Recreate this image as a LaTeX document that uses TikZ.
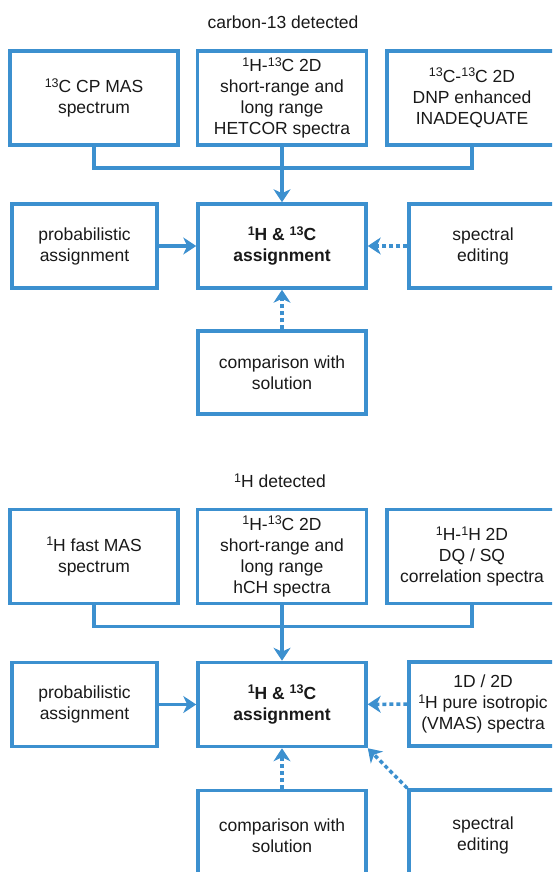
\documentclass[tikz,border=0pt]{standalone}
\usepackage{fontspec}
\setmainfont{Liberation Sans}
\usetikzlibrary{arrows.meta}
\definecolor{nmrblue}{RGB}{60,144,207}
\newcommand{\nmrfont}{\fontsize{17.5}{21}\selectfont}
\newcommand{\iso}[1]{\raisebox{5.5pt}{\fontsize{12.5}{12.5}\selectfont #1}}
\tikzstyle{nmrbox} = [draw=nmrblue, line width=3.5pt, rectangle, align=center,
    inner sep=2pt, text=black!90, font=\nmrfont]
\tikzstyle{nmrtitle} = [text=black!90, font=\nmrfont]
\tikzstyle{nmrline} = [draw=nmrblue, line width=3.5pt]
\tikzstyle{nmrarrow} = [nmrline, -{Stealth[length=13pt, width=17pt, inset=4pt]}]
\tikzstyle{nmrdots} = [nmrarrow, dash pattern=on 4pt off 3pt]

\begin{document}
\begin{tikzpicture}[x=1pt, y=-1pt]
    \useasboundingbox (0,0) rectangle (552,872);
    \clip (0,0) rectangle (552,872);
    % carbon-13 detected
    \node[nmrtitle] (ctitle) at (283,22) {carbon-13 detected};
    \node[nmrbox, minimum width=168pt, minimum height=94pt] (cpmas) at (94,98)
        {\iso{13}C CP MAS\\spectrum};
    \node[nmrbox, minimum width=169pt, minimum height=94pt] (hetcor) at (282,98)
        {\iso{1}H-\iso{13}C 2D\\short-range and\\long range\\HETCOR spectra};
    \node[nmrbox, minimum width=170pt, minimum height=94pt] (inadeq) at (472,98)
        {\iso{13}C-\iso{13}C 2D\\DNP enhanced\\INADEQUATE};
    \node[nmrbox, minimum width=145pt, minimum height=84pt] (cprob) at (84.5,246)
        {probabilistic\\assignment};
    \node[nmrbox, minimum width=168pt, minimum height=84pt, font=\nmrfont\bfseries] (cassign) at (282,246)
        {\iso{1}H \& \iso{13}C\\assignment};
    \node[nmrbox, minimum width=148pt, minimum height=84pt] (cedit) at (483,246)
        {spectral\\editing};
    \node[nmrbox, minimum width=168pt, minimum height=83pt] (ccompare) at (282,372.5)
        {comparison with\\solution};
    \coordinate (cjoin) at (282,168);

    \draw[nmrline] (cpmas.south) |- (cjoin) -| (inadeq.south);
    \draw[nmrarrow] (hetcor.south) -- (cassign.north);
    \draw[nmrarrow] (cprob) -- (cassign);
    \draw[nmrdots] (cedit) -- (cassign);
    \draw[nmrdots] (ccompare) -- (cassign);

    % 1H detected
    \node[nmrtitle] (htitle) at (280,481) {\iso{1}H detected};
    \node[nmrbox, minimum width=168pt, minimum height=94pt] (fastmas) at (94,556.5)
        {\iso{1}H fast MAS\\spectrum};
    \node[nmrbox, minimum width=169pt, minimum height=94pt] (hch) at (282,556.5)
        {\iso{1}H-\iso{13}C 2D\\short-range and\\long range\\hCH spectra};
    \node[nmrbox, minimum width=170pt, minimum height=94pt] (dqsq) at (472,556.5)
        {\iso{1}H-\iso{1}H 2D\\DQ / SQ\\correlation spectra};
    \node[nmrbox, minimum width=145pt, minimum height=84pt] (hprob) at (84.5,704.5)
        {probabilistic\\assignment};
    \node[nmrbox, minimum width=168pt, minimum height=84pt, font=\nmrfont\bfseries] (hassign) at (282,704.5)
        {\iso{1}H \& \iso{13}C\\assignment};
    \node[nmrbox, minimum width=148pt, minimum height=84pt] (vmas) at (483,704)
        {1D / 2D\\\iso{1}H pure isotropic\\(VMAS) spectra};
    \node[nmrbox, minimum width=168pt, minimum height=90pt] (hcompare) at (282,835.5)
        {comparison with\\solution};
    \node[nmrbox, minimum width=148pt, minimum height=90pt] (hedit) at (483,835)
        {spectral\\editing};
    \coordinate (hjoin) at (282,626.5);

    \draw[nmrline] (fastmas.south) |- (hjoin) -| (dqsq.south);
    \draw[nmrarrow] (hch.south) -- (hassign.north);
    \draw[nmrarrow] (hprob) -- (hassign);
    \draw[nmrdots] (vmas) -- (hassign);
    \draw[nmrdots] (hcompare) -- (hassign);
    \draw[nmrdots] (hedit.north west) -- (hassign.south east);
\end{tikzpicture}
\end{document}
